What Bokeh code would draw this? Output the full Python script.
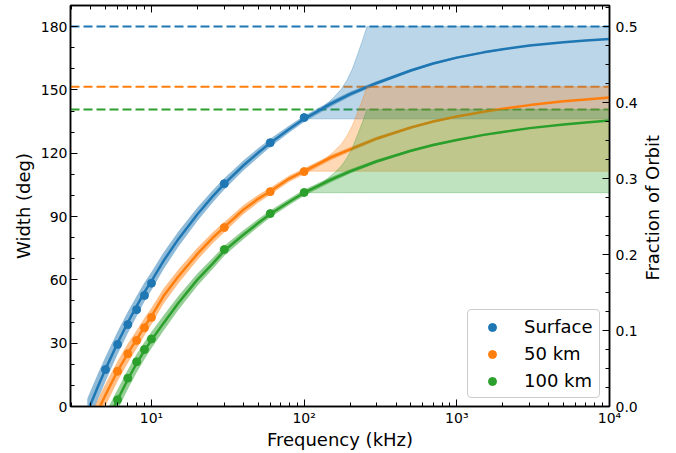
import math
from bokeh.plotting import figure
from bokeh.models import (Range1d, LinearAxis, LogAxis, FixedTicker, SingleIntervalTicker,
                          NumeralTickFormatter, Legend, LegendItem, Span)
from bokeh.embed import file_html
from bokeh.resources import INLINE

# ---------------- data ----------------
series_names = ["Surface", "50 km", "100 km"]
colors = ["#1f77b4", "#ff7f0e", "#2ca02c"]

# fitted curves
freq_khz = [3.8, 4, 4.5, 5, 6, 7, 8, 9, 10, 12, 15, 20, 25, 30, 40, 50, 60, 80, 100,
            150, 200, 300, 500, 700, 1000, 1500, 2000, 3000, 5000, 7000, 10000]
surface_fit = [-2.8, 1.2, 10.1, 17.7, 30.1, 39.8, 47.6, 54.2, 59.4, 69.0, 79.3, 91.1, 99.3, 105.5,
               114.2, 120.2, 124.9, 131.5, 136.3, 143.5, 148.0, 153.3, 159.2, 162.5, 165.3,
               167.8, 169.3, 171.0, 172.6, 173.4, 174.1]
km50_fit = [-13.3, -9.6, -1.5, 5.5, 16.8, 25.2, 31.8, 37.8, 42.8, 52.3, 61.6, 72.3, 79.7, 85.0,
            93.2, 98.4, 102.0, 108.0, 111.5, 118.0, 121.8, 127.0, 132.2, 135.0, 137.4,
            139.7, 141.1, 142.8, 144.6, 145.5, 146.4]
km100_fit = [-27.6, -23.8, -15.5, -8.4, 3.2, 12.8, 20.5, 26.5, 31.5, 39.5, 49.0, 60.1, 67.5, 73.8,
             81.4, 86.9, 91.2, 97.0, 101.3, 107.5, 111.4, 116.2, 121.2, 123.9, 126.3,
             128.7, 130.1, 131.9, 133.6, 134.6, 135.5]

# half-width of the uncertainty band around each fit (deg)
surface_err = [6.5, 6.4, 6.1, 5.9, 5.4, 5.1, 4.8, 4.5, 4.3, 4.0, 3.6, 3.2, 2.9, 2.7, 2.4, 2.2,
               2.0, 1.7, 1.5, 1.3, 1.1, 0.9, 0.7, 0.6, 0.5, 0.4, 0.35, 0.3, 0.25, 0.2, 0.2]
km50_err = [5.9, 5.8, 5.5, 5.3, 4.8, 4.6, 4.3, 4.1, 3.9, 3.6, 3.3, 2.9, 2.6, 2.4, 2.1, 1.9,
            1.7, 1.5, 1.4, 1.2, 1.0, 0.8, 0.6, 0.5, 0.45, 0.4, 0.35, 0.3, 0.25, 0.2, 0.2]
km100_err = [6.0, 5.9, 5.6, 5.4, 4.9, 4.6, 4.4, 4.1, 3.9, 3.6, 3.3, 2.9, 2.6, 2.4, 2.1, 1.9,
             1.7, 1.5, 1.4, 1.2, 1.0, 0.8, 0.6, 0.55, 0.5, 0.4, 0.35, 0.3, 0.25, 0.2, 0.2]

# measured points
surface_pts_f = [5, 6, 7, 8, 9, 10, 30, 60, 100]
surface_pts_w = [17.5, 29.4, 38.8, 45.9, 52.6, 58.4, 105.6, 125.0, 136.9]
km50_pts_f = [6, 7, 8, 9, 10, 30, 60, 100]
km50_pts_w = [16.7, 25.0, 31.3, 37.3, 42.2, 84.8, 101.8, 111.3]
km100_pts_f = [6, 7, 8, 9, 10, 30, 60, 100]
km100_pts_w = [3.2, 13.4, 21.2, 27.0, 32.0, 74.4, 91.4, 101.4]

# maximum widths (dashed lines)
max_width = [180.0, 151.5, 140.7]

# extrapolated ranges above 100 kHz
range_f = [100, 110, 122, 138, 156, 175, 191, 207, 222, 240, 258, 10000]
surface_range_lo = 136.3
surface_range_hi = [136.3, 137.6, 139.8, 142.9, 146.4, 150.3, 154.7, 159.9, 166.0, 173.0, 180.0, 180.0]
km50_range_lo = 111.5
km50_range_hi = [111.5, 112.7, 114.7, 117.5, 120.7, 124.3, 128.3, 133.1, 138.7, 145.1, 151.5, 151.5]
km100_range_lo = 101.3
km100_range_hi = [101.3, 102.5, 104.5, 107.2, 110.4, 113.9, 117.8, 122.6, 128.1, 134.4, 140.7, 140.7]

deg_per_orbit = 360.0

# axis ticks
x_major = [10, 100, 1000, 10000]
x_major_labels = ["10\u00b9", "10\u00b2", "10\u00b3", "10\u2074"]

FONT = "DejaVu Sans"

# ---------------- figure ----------------
y_max = 190
frac_max = y_max / deg_per_orbit
p = figure(width=676, height=453, x_axis_type="log",
           x_range=Range1d(2.95, 1e4), y_range=Range1d(0, y_max),
           output_backend="svg", toolbar_location=None,
           min_border_left=70, min_border_right=67, min_border_top=5, min_border_bottom=47,
           x_axis_label="Frequency (kHz)", y_axis_label="Width (deg)")
p.grid.visible = False
p.outline_line_color = "black"
p.outline_line_width = 1.5
p.outline_line_alpha = 1.0
p.background_fill_color = "white"
p.border_fill_color = "white"

p.extra_y_ranges = {"frac": Range1d(0, frac_max)}

bottom_axis = p.below[0]
left_axis = p.left[0]

x_minor = []
for dec in [1, 10, 100, 1000]:
    for m in range(2, 10):
        x_minor.append(dec * m)
bottom_axis.ticker = FixedTicker(ticks=x_major, minor_ticks=x_minor)
bottom_axis.major_label_overrides = {t: lab for t, lab in zip(x_major, x_major_labels)}
left_axis.ticker = SingleIntervalTicker(interval=30, num_minor_ticks=3)

top_axis = LogAxis(ticker=FixedTicker(ticks=x_major, minor_ticks=x_minor),
                   major_label_overrides={t: "" for t in x_major},
                   major_label_text_font_size="0px", major_label_standoff=0)
p.add_layout(top_axis, "above")

right_axis = LinearAxis(y_range_name="frac",
                        ticker=SingleIntervalTicker(interval=0.1, num_minor_ticks=4),
                        formatter=NumeralTickFormatter(format="0.0"))
p.add_layout(right_axis, "right")

for ax in [bottom_axis, left_axis, top_axis, right_axis]:
    ax.major_tick_in = 7
    ax.major_tick_out = 0
    ax.minor_tick_in = 4
    ax.minor_tick_out = 0
    ax.major_tick_line_color = "black"
    ax.minor_tick_line_color = "black"
    ax.major_tick_line_width = 1
    ax.axis_line_color = "black"
    ax.axis_line_width = 1.5
    ax.major_label_text_font = FONT
    ax.major_label_text_color = "black"
    ax.axis_label_text_font = FONT
    ax.axis_label_text_font_style = "normal"
    ax.axis_label_text_color = "black"
    ax.axis_label_text_font_size = "18px"

for ax in [bottom_axis, left_axis, right_axis]:
    ax.major_label_text_font_size = "14px"

bottom_axis.major_label_standoff = 3
bottom_axis.axis_label_standoff = 0
left_axis.major_label_standoff = 3
left_axis.axis_label_standoff = 4
right_axis.major_label_standoff = 6

# right-hand axis title (reads bottom to top), carried by a tick-less axis.
# It is anchored at the bottom of the axis, so leading no-break spaces lift it
# to the middle of the frame.
right_title = "Fraction of Orbit"
tprops = LinearAxis().properties()
lift = "\u00a0" * 22 if "axis_label_align" in tprops else ""
title_axis = LinearAxis(y_range_name="frac", axis_label=lift + right_title,
                        ticker=FixedTicker(ticks=[]),
                        axis_line_color=None, major_tick_line_color=None,
                        minor_tick_line_color=None, major_tick_in=0, major_tick_out=0,
                        minor_tick_in=0, minor_tick_out=0,
                        major_label_text_font_size="0px", major_label_standoff=0,
                        axis_label_standoff=12,
                        axis_label_text_font=FONT, axis_label_text_font_size="18px",
                        axis_label_text_font_style="normal", axis_label_text_color="black")
if "axis_label_orientation" in tprops:
    title_axis.axis_label_orientation = math.pi / 2
if "axis_label_align" in tprops:
    title_axis.axis_label_align = "start"
p.add_layout(title_axis, "right")

# dashed maximum lines (underneath everything)
for mw, c in zip(max_width, colors):
    p.add_layout(Span(location=mw, dimension="width", line_color=c, line_width=2,
                      line_dash="9 4", level="underlay"))

fits = [surface_fit, km50_fit, km100_fit]
errs = [surface_err, km50_err, km100_err]
pts_f = [surface_pts_f, km50_pts_f, km100_pts_f]
pts_w = [surface_pts_w, km50_pts_w, km100_pts_w]
rng_lo = [surface_range_lo, km50_range_lo, km100_range_lo]
rng_hi = [surface_range_hi, km50_range_hi, km100_range_hi]

legend_items = []
for name, c, fit, err, pf, pw, lo, hi in zip(series_names, colors, fits, errs, pts_f, pts_w, rng_lo, rng_hi):
    band_lo = [w - e for w, e in zip(fit, err)]
    band_hi = [w + e for w, e in zip(fit, err)]
    p.varea(x=freq_khz, y1=band_lo, y2=band_hi, fill_color=c, fill_alpha=0.5)
    p.line(freq_khz, fit, line_color=c, line_width=2.5)
    r = p.scatter(pf, pw, size=8, fill_color=c, line_color=c, marker="circle")
    legend_items.append(LegendItem(label=name, renderers=[r]))
    lo_list = [lo] * len(range_f)
    p.varea(x=range_f, y1=lo_list, y2=hi, fill_color=c, fill_alpha=0.3)
    p.line(range_f, hi, line_color=c, line_alpha=0.3, line_width=1)
    p.line(range_f, lo_list, line_color=c, line_alpha=0.3, line_width=1)

legend = Legend(items=legend_items, location=(397, 8), orientation="vertical",
                label_text_font=FONT, label_text_font_size="18px", label_text_color="black",
                glyph_width=36, glyph_height=20, label_height=20, label_standoff=14,
                spacing=6, padding=6, margin=0,
                border_line_color="#cccccc", border_line_width=1, border_line_alpha=1.0,
                background_fill_color="white", background_fill_alpha=0.8)
if "border_radius" in legend.properties():
    legend.border_radius = 4
p.add_layout(legend)

open("out.html", "w").write(file_html(p, INLINE))
